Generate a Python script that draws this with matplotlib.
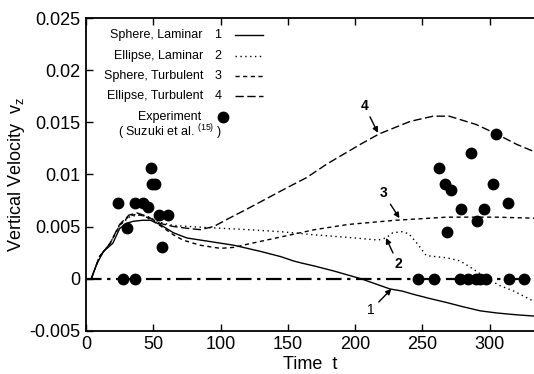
import matplotlib
matplotlib.use('Agg')
import matplotlib.pyplot as plt
from matplotlib.lines import Line2D

plt.rcParams['font.family'] = ['Liberation Sans', 'DejaVu Sans']
plt.rcParams['mathtext.fontset'] = 'custom'
plt.rcParams['mathtext.rm'] = 'Liberation Sans'

# Curve 1: sphere, laminar
t1 = [4, 8, 13, 20, 25, 30, 35, 42, 48, 55, 65, 75, 85, 95, 110, 120, 130, 145,
      154, 160, 170, 179, 185, 193, 204, 215, 226, 235, 243, 255, 268, 280, 293,
      305, 313, 322, 333]
v1 = [0, 0.0014, 0.0026, 0.0034, 0.0048, 0.0053, 0.0055, 0.0056, 0.0056, 0.0052,
      0.0044, 0.0039, 0.0037, 0.0035, 0.0032, 0.0029, 0.0026, 0.0021,
      0.0017, 0.0015, 0.0012, 0.0009, 0.0007, 0.0004, 0.0, -0.0005, -0.001,
      -0.0012, -0.0015, -0.0019, -0.0023, -0.0027, -0.0031,
      -0.0033, -0.0034, -0.0035, -0.0036]

# Curve 2: ellipse, laminar
t2 = [4, 10, 18, 25, 32, 38, 45, 55, 65, 77, 90, 105, 120, 145, 170, 200, 217,
      223, 228, 235, 240, 246, 253, 268, 278, 288, 298, 308, 318, 333]
v2 = [0, 0.0021, 0.0034, 0.0051, 0.0059, 0.0061, 0.006, 0.0054, 0.0051, 0.005,
      0.0049, 0.0048, 0.0047, 0.0045, 0.0042, 0.0039, 0.0037,
      0.0039, 0.0044, 0.0045, 0.0043, 0.0034, 0.0022, 0.002, 0.0017, 0.0009,
      0.0, -0.0007, -0.0012, -0.0022]

# Curve 3: sphere, turbulent
t3 = [4, 10, 18, 25, 32, 38, 45, 55, 65, 72, 85, 100, 110, 120, 145, 170, 195,
      230, 268, 305, 333]
v3 = [0, 0.0021, 0.0034, 0.0051, 0.006, 0.0062, 0.0059, 0.0051, 0.0042, 0.0037,
      0.0032, 0.0029, 0.003, 0.0033, 0.004, 0.0047, 0.0052,
      0.0056, 0.0059, 0.0059, 0.0058]

# Curve 4: ellipse, turbulent
t4 = [4, 10, 18, 25, 32, 38, 45, 55, 65, 77, 85, 95, 105, 120, 149, 164, 179,
      204, 218, 241, 258, 270, 290, 305, 320, 333]
v4 = [0, 0.0021, 0.0034, 0.0052, 0.0061, 0.0063, 0.006, 0.0053, 0.005, 0.0048,
      0.0047, 0.005, 0.0057, 0.0067, 0.0087, 0.0097, 0.011,
      0.0129, 0.0139, 0.0151, 0.0156, 0.0156, 0.0148, 0.0139, 0.0129, 0.0122]

# Experiment (Suzuki et al.)
exp_t = [23.8, 30.2, 36.4, 42.6, 46.3, 48.3, 49.0, 51.5, 54.5, 56.2, 61.1,
         27.7, 36.6,
         262.5, 267.2, 268.0, 271.6, 279.1, 286.3, 291.0, 295.9, 302.4, 304.4,
         313.5,
         246.9, 258.8, 277.9, 284.1, 290.0, 292.5, 297.2, 314.5, 325.4]
exp_v = [0.0073, 0.0049, 0.0073, 0.0073, 0.0069, 0.01065, 0.0091, 0.0091,
         0.0061, 0.0030, 0.0061,
         0.0, 0.0,
         0.0106, 0.0091, 0.0045, 0.0085, 0.0067, 0.0121, 0.0055, 0.0067,
         0.0091, 0.0139, 0.0073,
         0.0, 0.0, 0.0, 0.0, 0.0, 0.0, 0.0, 0.0, 0.0]

yticks = [-0.005, 0, 0.005, 0.01, 0.015, 0.02, 0.025]
ytick_labels = ['-0.005', '0', '0.005', '0.01', '0.015', '0.02', '0.025']
xticks = [0, 50, 100, 150, 200, 250, 300]

fig = plt.figure(figsize=(5.34, 3.74), dpi=100)
ax = fig.add_axes([0.161, 0.116, 0.839, 0.835])

ls1 = '-'
ls2 = (0, (1, 2.5))
ls3 = (0, (3, 2.5))
ls4 = (0, (6, 2.5))

ax.axhline(0, color='black', lw=1.6, linestyle=(0, (7, 2.5, 1.5, 2.5)))
ax.plot(t1, v1, color='black', lw=1.0, linestyle=ls1)
ax.plot(t2, v2, color='black', lw=1.0, linestyle=ls2)
ax.plot(t3, v3, color='black', lw=1.0, linestyle=ls3)
ax.plot(t4, v4, color='black', lw=1.0, linestyle=ls4)
ax.plot(exp_t, exp_v, 'o', color='black', markersize=7.5, linestyle='none')

ax.set_xlim(0, 333)
ax.set_ylim(-0.005, 0.025)
ax.set_xticks(xticks)
ax.set_yticks(yticks)
ax.set_yticklabels(ytick_labels)
ax.tick_params(direction='in', length=5, width=1, labelsize=13, top=True,
               right=False, pad=4)
for s in ['left', 'bottom', 'top']:
    ax.spines[s].set_linewidth(1.3)
ax.spines['right'].set_visible(False)

ax.set_xlabel('Time  t', fontsize=13, labelpad=2)
ax.set_ylabel('Vertical Velocity  v$_{\\mathregular{z}}$', fontsize=13, labelpad=2)

# curve labels with arrows
arrow = dict(arrowstyle='-|>', color='black', lw=1.0, mutation_scale=8,
             shrinkA=1, shrinkB=0)
ax.annotate('4', xy=(217, 0.0140), xytext=(207, 0.0166), fontsize=10,
            fontweight='bold', ha='center', va='center', arrowprops=arrow)
ax.annotate('3', xy=(233, 0.0058), xytext=(221, 0.0082), fontsize=10,
            fontweight='bold', ha='center', va='center', arrowprops=arrow)
ax.annotate('2', xy=(223, 0.0039), xytext=(232, 0.0014), fontsize=10,
            fontweight='bold', ha='center', va='center', arrowprops=arrow)
ax.annotate('1', xy=(227, -0.0010), xytext=(212, -0.0030), fontsize=10,
            ha='center', va='center', arrowprops=arrow)

# legend drawn by hand
W, H = 534.0, 374.0
names = ['Sphere, Laminar', 'Ellipse, Laminar', 'Sphere, Turbulent',
         'Ellipse, Turbulent']
nums = ['1', '2', '3', '4']
styles = [ls1, ls2, ls3, ls4]
rows = [35, 56, 76, 96]
for name, num, st, y in zip(names, nums, styles, rows):
    fig.text(203 / W, 1 - y / H, name, fontsize=9, ha='right', va='center')
    fig.text(218 / W, 1 - y / H, num, fontsize=9, ha='center', va='center')
    fig.add_artist(Line2D([235 / W, 263 / W], [1 - y / H, 1 - y / H],
                          color='black', lw=1.0, linestyle=st))
fig.text(201 / W, 1 - 117 / H, 'Experiment', fontsize=9, ha='right', va='center')
fig.add_artist(Line2D([223 / W], [1 - 117 / H], marker='o', color='black',
                      markersize=7.5, linestyle='none'))
fig.text(170 / W, 1 - 132 / H, '( Suzuki et al. $^{\\mathregular{(15)}}$ )',
         fontsize=9, ha='center', va='center')

fig.savefig('out.png', dpi=100)
